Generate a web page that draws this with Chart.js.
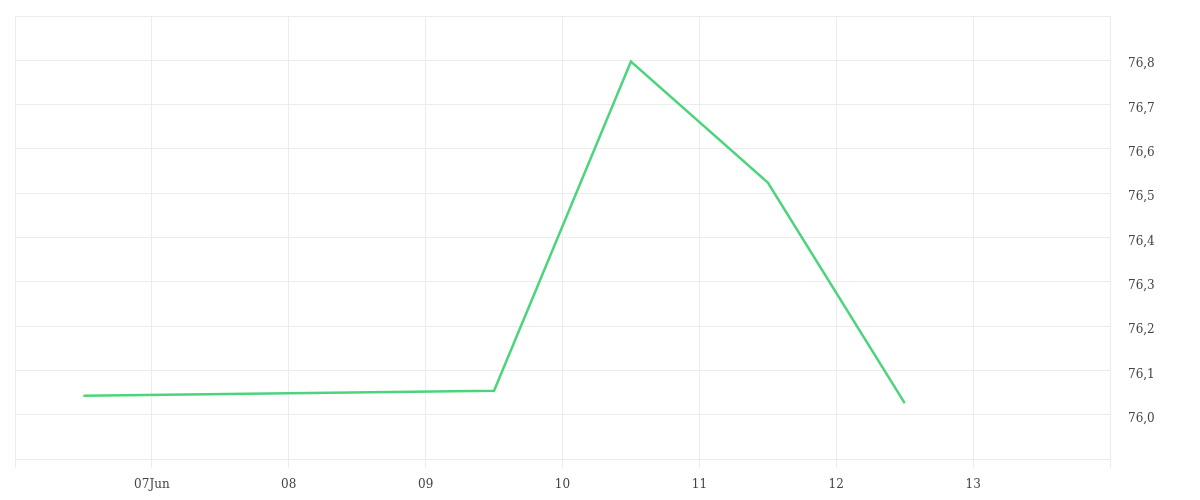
<!DOCTYPE html>
<html>
<head>
<meta charset="utf-8">
<script src="https://cdn.jsdelivr.net/npm/chart.js@4/dist/chart.umd.min.js"></script>
<style>
html,body{margin:0;padding:0;background:#fff;}
#wrap{width:1200px;height:500px;position:relative;}
</style>
</head>
<body>
<div id="wrap"><canvas id="c" width="1200" height="500"></canvas></div>
<script>
// Day-of-June positions of the points (midday)
const pointDays = [6.5, 9.5, 10.5, 11.5, 12.5];
const values = [76.043, 76.054, 76.797, 76.524, 76.026];
// x tick labels, days 6..14 (edges unlabeled)
const xTickDays = [6, 7, 8, 9, 10, 11, 12, 13, 14];
const xTickLabels = ['', '07Jun', '08', '09', '10', '11', '12', '13', ''];
const yMin = 75.9, yMax = 76.9;
const yLabelMin = 76.0, yLabelMax = 76.8;

const FONT = "'DejaVu Serif', serif";
const data = pointDays.map((d, i) => ({x: d, y: values[i]}));

function zeroPad(axis) {
  axis.paddingTop = 0; axis.paddingBottom = 0;
  axis.paddingLeft = 0; axis.paddingRight = 0;
}

new Chart(document.getElementById('c'), {
  type: 'line',
  data: {
    datasets: [{
      data: data,
      borderColor: '#4cd47c',
      borderWidth: 2.5,
      pointRadius: 0,
      tension: 0,
      fill: false
    }]
  },
  options: {
    responsive: false,
    animation: false,
    layout: {padding: {left: 15, top: 16, right: 0, bottom: 0}},
    plugins: {legend: {display: false}, tooltip: {enabled: false}},
    scales: {
      x: {
        type: 'linear',
        min: 6, max: 14,
        afterBuildTicks: (axis) => { axis.ticks = xTickDays.map(v => ({value: v})); },
        grid: {color: '#ececec', lineWidth: 1, tickLength: 9, drawTicks: true},
        border: {display: false},
        ticks: {
          autoSkip: false, maxRotation: 0,
          color: '#444', font: {family: FONT, size: 12}, padding: 10,
          callback: (v) => { const i = xTickDays.indexOf(v); return i >= 0 ? xTickLabels[i] : ''; }
        },
        afterFit: (axis) => { axis.height = 41; zeroPad(axis); }
      },
      y: {
        position: 'right',
        min: yMin, max: yMax,
        afterBuildTicks: (axis) => {
          const t = [];
          for (let i = 0; i <= 10; i++) t.push({value: +(yMin + i * 0.1).toFixed(1)});
          axis.ticks = t;
        },
        grid: {color: '#ececec', lineWidth: 1, drawTicks: false},
        border: {display: false},
        ticks: {
          color: '#444', font: {family: FONT, size: 12}, padding: 18, labelOffset: 4,
          callback: (v) => (v < yLabelMin - 1e-6 || v > yLabelMax + 1e-6) ? '' : v.toFixed(1).replace('.', ',')
        },
        afterFit: (axis) => { axis.width = 90; zeroPad(axis); }
      }
    }
  }
});
</script>
</body>
</html>
